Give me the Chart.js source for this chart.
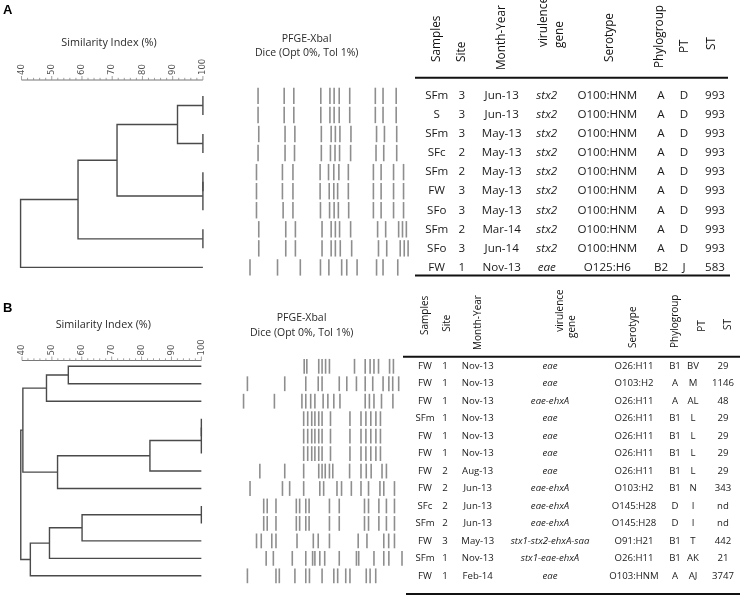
<!DOCTYPE html>
<html><head><meta charset="utf-8">
<script src="https://cdn.jsdelivr.net/npm/chart.js@4.4.0/dist/chart.umd.min.js"></script>
<style>html,body{margin:0;padding:0;background:#fff}canvas{display:block}</style>
</head><body>
<canvas id="c" width="748" height="601"></canvas>
<script>
// ---------------- DATA ----------------
// Panel A: dendrogram merges [childA, childB, similarity %]; leaves 0..9, new nodes numbered from 10
const mergesA = [[0,1,100],[2,3,100],[10,11,91.6],[4,5,100],[13,6,100],[12,14,71.6],[7,8,100],[15,16,58.7],[17,9,39.7]];
// Panel B: leaves 0..12, new nodes numbered from 13
const mergesB = [[0,1,55.5],[13,2,48.2],[3,4,100],[15,5,100],[16,6,82.8],[17,7,51.9],[14,18,40.3],[8,9,100],[20,10,60.1],[21,11,49.2],[22,12,42.8],[19,23,39.6]];

const simTicks = [40,50,60,70,80,90,100];

// PFGE band positions (relative migration units) per lane
const gelA = [
 [8.3,23.2,28.7,44.1,49.3,51.7,54.6,60.6,75.2,79.6,87.1],
 [8.3,23.2,28.7,44.1,49.3,51.7,54.6,60.6,75.2,79.6,87.1],
 [8.7,23.7,29.3,44.4,50.0,52.4,55.0,61.3,75.9,80.4,87.4],
 [8.3,23.7,29.1,44.4,49.6,52.2,54.8,61.1,75.6,80.0,87.4],
 [7.4,22.2,28.2,43.7,48.5,51.5,54.4,59.8,74.1,78.5,85.6,91.3],
 [7.4,22.2,28.2,43.7,48.9,51.5,53.7,59.8,74.1,78.5,85.6,91.3],
 [7.4,22.6,28.2,43.9,49.1,51.7,54.1,60.0,74.1,78.5,85.6,91.3],
 [8.7,24.1,29.6,44.8,50.0,52.4,54.8,61.1,76.5,81.1,88.5,90.7,92.9],
 [8.7,24.1,29.6,44.8,50.0,52.4,55.2,61.7,77.0,81.7,89.4,91.7,93.9],
 [3.7,19.4,32.4,43.9,48.7,56.0,58.9,64.8,75.9,79.6,88.0]
];
const gelB = [
 [37.4,38.9,45.7,47.6,49.6,51.8,66.1,72.2,75.0,77.2,79.8,86.1,88.3],
 [5.0,26.3,38.3,45.4,47.6,57.4,61.7,67.2,72.2,76.5,82.4,85.7,87.9,91.3],
 [2.8,20.4,36.1,38.3,41.1,43.5,48.2,50.9,54.3,57.8,72.2,74.6,77.2,81.5,88.0],
 [37.1,39.4,41.7,43.5,45.7,47.6,52.4,63.5,69.8,72.6,75.4,78.3,80.9],
 [37.1,39.4,41.7,43.5,45.7,47.6,52.4,63.5,69.8,72.6,75.4,78.3,80.9],
 [37.1,39.4,41.7,43.5,45.7,47.6,52.4,63.5,69.8,72.6,75.4,78.3,80.9],
 [12.1,26.3,37.1,45.7,47.6,49.4,51.8,53.7,63.3,69.8,72.8,75.6,81.8,84.3],
 [6.5,25.0,29.1,37.1,46.3,48.5,56.1,58.7,64.3,69.8,74.1,80.6,82.8,88.9],
 [14.3,16.3,21.3,32.9,34.8,38.3,40.2,51.8,57.4,71.8,74.1,80.0,84.3,88.9],
 [14.3,16.3,21.3,32.9,34.8,38.3,40.2,51.8,57.4,71.8,74.1,80.0,84.3,88.9],
 [10.2,12.9,18.9,21.3,33.3,42.6,45.4,51.8,68.2,73.2,82.8,85.6,88.9],
 [15.7,19.8,30.6,38.3,42.2,43.5,46.3,49.1,57.4,67.2,68.5,77.2,82.8,85.7,93.2],
 [5.0,21.3,23.2,32.1,38.3,40.4,47.6,54.3,56.5,61.1,63.5,72.8,75.0,78.2]
];

// Table A
const headersA = ['Samples','Site','Month-Year','virulence|gene','Serotype','Phylogroup','PT','ST'];
const samplesA = ['SFm','S','SFm','SFc','SFm','FW','SFo','SFm','SFo','FW'];
const siteA = ['3','3','3','2','2','3','3','2','3','1'];
const monthA = ['Jun-13','Jun-13','May-13','May-13','May-13','May-13','May-13','Mar-14','Jun-14','Nov-13'];
const geneA = ['stx2','stx2','stx2','stx2','stx2','stx2','stx2','stx2','stx2','eae'];
const serotypeA = ['O100:HNM','O100:HNM','O100:HNM','O100:HNM','O100:HNM','O100:HNM','O100:HNM','O100:HNM','O100:HNM','O125:H6'];
const phyloA = ['A','A','A','A','A','A','A','A','A','B2'];
const ptA = ['D','D','D','D','D','D','D','D','D','J'];
const stA = ['993','993','993','993','993','993','993','993','993','583'];

// Table B
const headersB = headersA;
const samplesB = ['FW','FW','FW','SFm','FW','FW','FW','FW','SFc','SFm','FW','SFm','FW'];
const siteB = ['1','1','1','1','1','1','2','2','2','2','3','1','1'];
const monthB = ['Nov-13','Nov-13','Nov-13','Nov-13','Nov-13','Nov-13','Aug-13','Jun-13','Jun-13','Jun-13','May-13','Nov-13','Feb-14'];
const geneB = ['eae','eae','eae-ehxA','eae','eae','eae','eae','eae-ehxA','eae-ehxA','eae-ehxA','stx1-stx2-ehxA-saa','stx1-eae-ehxA','eae'];
const serotypeB = ['O26:H11','O103:H2','O26:H11','O26:H11','O26:H11','O26:H11','O26:H11','O103:H2','O145:H28','O145:H28','O91:H21','O26:H11','O103:HNM'];
const phyloB = ['B1','A','A','B1','B1','B1','B1','B1','D','D','B1','B1','A'];
const ptB = ['BV','M','AL','L','L','L','L','N','I','I','T','AK','AJ'];
const stB = ['29','1146','48','29','29','29','29','343','nd','nd','442','21','3747'];

// ---------------- LAYOUT ----------------
const W = 748, H = 601;
const FONT = '"Open Sans", "DejaVu Sans", sans-serif';
const L = {
  A: { letterY: 15, titleX: 109, titleY: 43, gelTitleX: 306.7, gel1Y: 39.5, gel2Y: 53.5, rulerY: 80,
       row0: 89, rowStep: 19.7, sim40: 12, sim100: 198.3, gel0: 240, gelPx: 1.8, band: 8.2,
       cols: [436.7, 461.7, 501.7, 546.7, 607.3, 661, 684, 715],
       hx: [436.7, 461.7, 501.7, [543.3, 559.5], 610, 660, 685, 711.7],
       hb: [62, 62, 70, [47, 48], 62, 68, 53, 50],
       hline: [415, 728, 77.7], bline: [415, 730, 275.5], fs: 11.6, hfs: 11.8 },
  B: { letterY: 313, titleX: 103.3, titleY: 325, gelTitleX: 301.7, gel1Y: 318.3, gel2Y: 333.3, rulerY: 360.5,
       row0: 368.5, rowStep: 18.05, sim40: 12.5, sim100: 196.7, gel0: 235, gelPx: 1.8, band: 7.4,
       cols: [425, 445, 477.7, 550, 634, 675, 693, 723],
       hx: [425, 446.7, 477.7, [560, 571.7], 633.3, 675, 701.7, 728.3],
       hb: [335, 331.7, 350, [331.7, 338], 348, 348, 331.7, 330],
       hline: [403, 740, 356.7], bline: [406, 740, 594], fs: 9.6, hfs: 10 }
};
function lin(v0, p0, v1, p1, size) { const k = (p1 - p0) / (v1 - v0); const min = v0 - p0 / k; return { min, max: min + size / k }; }

// ---------------- BUILD DATASETS ----------------
function dendroPaths(nLeaves, merges) {
  const nodes = [];
  for (let i = 0; i < nLeaves; i++) nodes.push({ x: 100, y: i });
  const paths = [];
  merges.forEach(([a, b, s]) => {
    const A = nodes[a], B = nodes[b];
    paths.push([{ x: A.x, y: A.y }, { x: s, y: A.y }, { x: s, y: B.y }, { x: B.x, y: B.y }]);
    nodes.push({ x: s, y: (A.y + B.y) / 2 });
  });
  return paths;
}
const datasets = [];
[['A', samplesA.length, mergesA], ['B', samplesB.length, mergesB]].forEach(([p, n, m]) => {
  dendroPaths(n, m).forEach(path => datasets.push({
    type: 'scatter', data: path, showLine: true, borderColor: '#4a4a4a', borderWidth: 1.4,
    pointRadius: 0, tension: 0, xAxisID: 'x' + p, yAxisID: 'y' + p, clip: false
  }));
});
[['A', gelA], ['B', gelB]].forEach(([p, gel]) => {
  const pts = [];
  gel.forEach((lane, r) => lane.forEach(v => pts.push({ x: v, y: r })));
  datasets.push({
    type: 'scatter', data: pts, showLine: false, pointStyle: 'line', pointRotation: 90,
    pointRadius: L[p].band, pointHoverRadius: L[p].band, pointBorderColor: '#8e8e8e', pointBorderWidth: 1.6,
    xAxisID: 'g' + p, yAxisID: 'y' + p, clip: false
  });
});

const sA = lin(40, L.A.sim40, 100, L.A.sim100, W), sB = lin(40, L.B.sim40, 100, L.B.sim100, W);
const gA = lin(0, L.A.gel0, 1, L.A.gel0 + L.A.gelPx, W), gB = lin(0, L.B.gel0, 1, L.B.gel0 + L.B.gelPx, W);
const yA = lin(0, L.A.row0, 1, L.A.row0 + L.A.rowStep, H), yB = lin(0, L.B.row0, 1, L.B.row0 + L.B.rowStep, H);
const hid = (o) => Object.assign({ type: 'linear', display: false }, o);

// ---------------- DRAWING HELPERS ----------------
function txt(ctx, s, x, y, font, align, color, rot) {
  ctx.save(); ctx.font = font; ctx.fillStyle = color || '#1a1a1a';
  ctx.textAlign = align || 'center'; ctx.textBaseline = 'middle';
  ctx.translate(x, y); if (rot) ctx.rotate(rot); ctx.fillText(s, 0, 0); ctx.restore();
}
function hline(ctx, x0, x1, y, w, c) { ctx.save(); ctx.strokeStyle = c; ctx.lineWidth = w; ctx.beginPath(); ctx.moveTo(x0, y); ctx.lineTo(x1, y); ctx.stroke(); ctx.restore(); }

const panelPlugin = {
  id: 'panels',
  beforeDraw(chart) { const c = chart.ctx; c.save(); c.fillStyle = '#fff'; c.fillRect(0, 0, W, H); c.restore(); },
  afterDraw(chart) {
    const ctx = chart.ctx;
    const tables = { A: [samplesA, siteA, monthA, geneA, serotypeA, phyloA, ptA, stA], B: [samplesB, siteB, monthB, geneB, serotypeB, phyloB, ptB, stB] };
    ['A', 'B'].forEach(p => {
      const c = L[p], xs = chart.scales['x' + p], ys = chart.scales['y' + p];
      txt(ctx, p, 3, c.letterY - 4.5, 'bold 13px "Liberation Sans", Arial, sans-serif', 'left', '#000');
      txt(ctx, 'Similarity Index (%)', c.titleX, c.titleY, '10.8px ' + FONT, 'center', '#2a2a2a');
      txt(ctx, 'PFGE-XbaI', c.gelTitleX, c.gel1Y, '10.5px ' + FONT, 'center', '#2a2a2a');
      txt(ctx, 'Dice (Opt 0%, Tol 1%)', c.gelTitleX, c.gel2Y, '10.5px ' + FONT, 'center', '#2a2a2a');
      // similarity ruler
      const x40 = xs.getPixelForValue(40), x100 = xs.getPixelForValue(100);
      hline(ctx, x40, x100, c.rulerY, 1, '#777');
      ctx.save(); ctx.strokeStyle = '#888'; ctx.lineWidth = 0.8;
      for (let v = 40; v <= 100; v += 2) {
        const x = xs.getPixelForValue(v), len = v % 10 === 0 ? 4 : 2.2;
        ctx.beginPath(); ctx.moveTo(x, c.rulerY); ctx.lineTo(x, c.rulerY - len); ctx.stroke();
      }
      ctx.restore();
      simTicks.forEach(v => txt(ctx, String(v), xs.getPixelForValue(v), c.rulerY - 5, '8.5px "DejaVu Sans", sans-serif', 'left', '#555', -Math.PI / 2));
      // table header
      headersA.forEach((h, i) => {
        const parts = h.split('|');
        parts.forEach((t, j) => {
          const hx = Array.isArray(c.hx[i]) ? c.hx[i][j] : c.hx[i];
          const hb = Array.isArray(c.hb[i]) ? c.hb[i][j] : c.hb[i];
          txt(ctx, t, hx, hb, c.hfs + 'px ' + FONT, 'left', '#111', -Math.PI / 2);
        });
      });
      hline(ctx, c.hline[0], c.hline[1], c.hline[2], 2, '#111');
      hline(ctx, c.bline[0], c.bline[1], c.bline[2], 2, '#111');
      // table rows
      tables[p].forEach((col, ci) => col.forEach((v, r) => {
        const y = ys.getPixelForValue(r);
        const f = (ci === 3 ? 'italic ' : '') + c.fs + 'px ' + FONT;
        txt(ctx, v, c.cols[ci], y, f, 'center', '#1a1a1a');
      }));
    });
  }
};

new Chart(document.getElementById('c'), {
  type: 'scatter',
  data: { datasets },
  options: {
    responsive: false, devicePixelRatio: 1, animation: false, events: [],
    layout: { padding: 0 },
    plugins: { legend: { display: false }, tooltip: { enabled: false }, title: { display: false } },
    scales: {
      xA: hid({ position: 'bottom', min: sA.min, max: sA.max }),
      xB: hid({ position: 'bottom', min: sB.min, max: sB.max }),
      gA: hid({ position: 'bottom', min: gA.min, max: gA.max }),
      gB: hid({ position: 'bottom', min: gB.min, max: gB.max }),
      yA: hid({ position: 'left', reverse: true, min: yA.min, max: yA.max }),
      yB: hid({ position: 'left', reverse: true, min: yB.min, max: yB.max })
    }
  },
  plugins: [panelPlugin]
});
</script>
</body></html>
